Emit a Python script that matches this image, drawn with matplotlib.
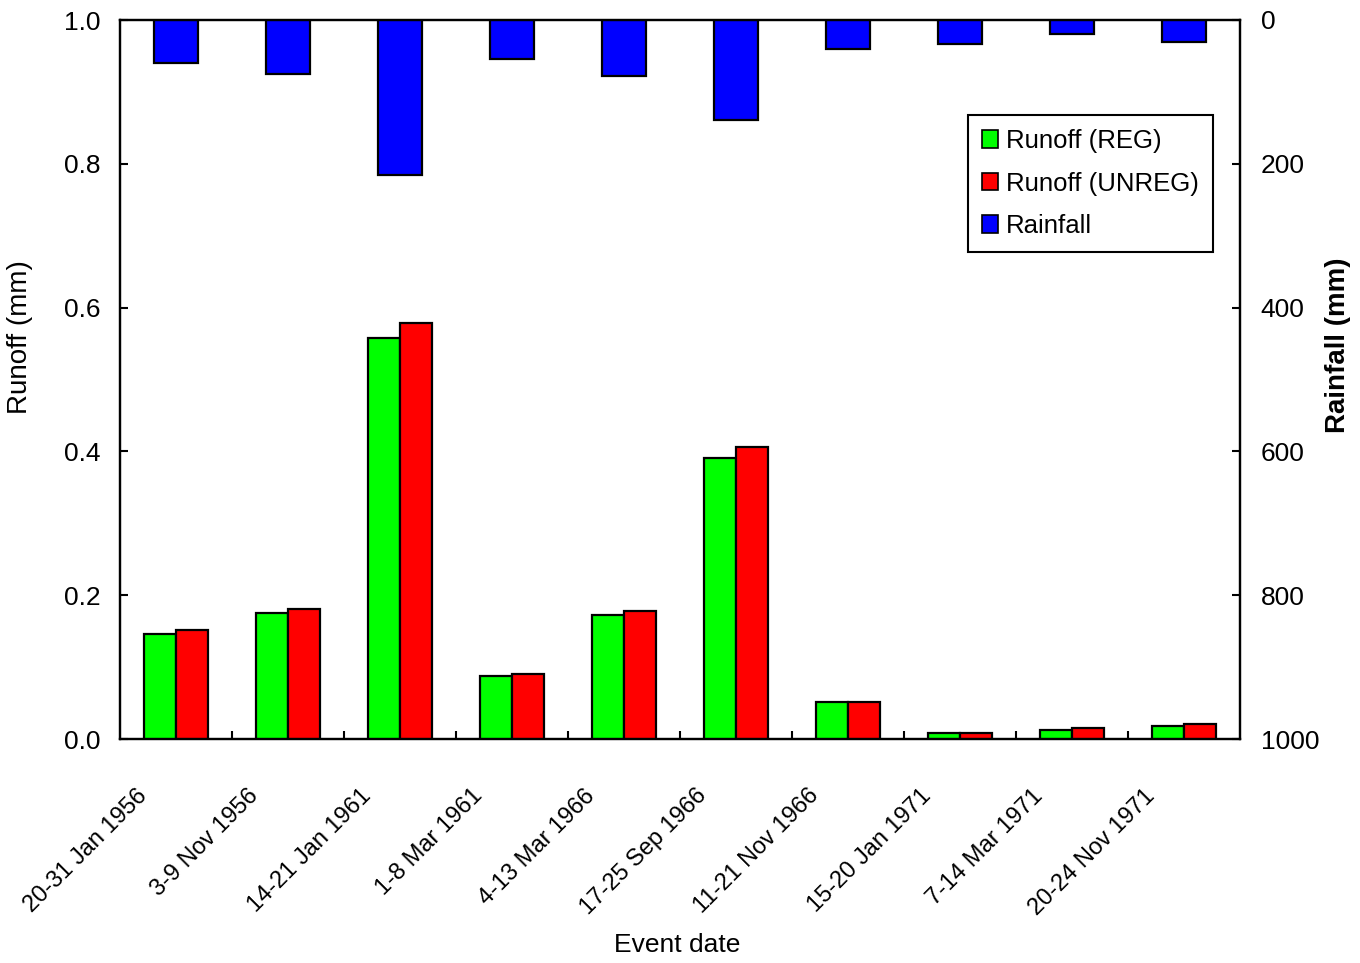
import numpy as np
import matplotlib
matplotlib.use("Agg")
import matplotlib.pyplot as plt
from matplotlib.patches import Patch

plt.rcParams['font.family'] = ['Liberation Sans', 'DejaVu Sans']

# ---- data ----
events = ["20-31 Jan 1956", "3-9 Nov 1956", "14-21 Jan 1961", "1-8 Mar 1961",
          "4-13 Mar 1966", "17-25 Sep 1966", "11-21 Nov 1966", "15-20 Jan 1971",
          "7-14 Mar 1971", "20-24 Nov 1971"]
runoff_reg = [0.146, 0.175, 0.558, 0.088, 0.172, 0.391, 0.052, 0.008, 0.012, 0.018]
runoff_unreg = [0.152, 0.181, 0.579, 0.090, 0.178, 0.406, 0.052, 0.008, 0.015, 0.021]
rainfall = [60, 75, 216, 54, 78, 139, 40, 33, 19, 31]

fig = plt.figure(figsize=(13.6, 9.63), dpi=100)
ax = fig.add_axes([120/1360, 1-739/963, 1120/1360, 719/963])
ax2 = ax.twinx()

x = np.arange(len(events))
w = 0.286
ax.bar(x - w/2, runoff_reg, w, color='#00ff00', edgecolor='black', linewidth=1.6, zorder=3)
ax.bar(x + w/2, runoff_unreg, w, color='#ff0000', edgecolor='black', linewidth=1.6, zorder=3)
ax2.bar(x, rainfall, 0.4, color='#0000ff', edgecolor='black', linewidth=1.6)

ax.set_xlim(-0.5, len(events) - 0.5)
ax.set_ylim(0, 1.0)
ax.set_yticks(np.arange(0, 1.01, 0.2))
ax.set_yticklabels(["%.1f" % v for v in np.arange(0, 1.01, 0.2)], fontsize=19)
ax2.set_ylim(1000, 0)
ax2.set_yticks(np.arange(0, 1001, 200))
ax2.set_yticklabels([str(v) for v in range(0, 1001, 200)], fontsize=19)

ax.tick_params(axis='y', direction='in', length=6, width=1.5, pad=14)
ax2.tick_params(axis='y', direction='in', length=6, width=1.5, pad=15)

# group boundaries as inward minor ticks, labels offset left of centre
ax.set_xticks(np.arange(0.5, len(events) - 0.5, 1.0), minor=True)
ax.tick_params(axis='x', which='minor', direction='in', length=6, width=1.5)
ax.set_xticks(x - 0.36)
ax.set_xticklabels(events, rotation=45, ha='right', rotation_mode='anchor', fontsize=17)
ax.tick_params(axis='x', which='major', length=0, pad=33)

for a in (ax, ax2):
    for s in a.spines.values():
        s.set_linewidth(1.6)

fig.text(20/1360, 1-337/963, "Runoff (mm)", rotation=90, ha='center', va='center', fontsize=20)
fig.text(1338/1360, 1-345/963, "Rainfall (mm)", rotation=90, ha='center', va='center',
         fontsize=20, fontweight='bold')
fig.text(677/1360, 1-945/963, "Event date", ha='center', va='center', fontsize=19)

handles = [Patch(facecolor='#00ff00', edgecolor='black', linewidth=1.2),
           Patch(facecolor='#ff0000', edgecolor='black', linewidth=1.2),
           Patch(facecolor='#0000ff', edgecolor='black', linewidth=1.2)]
leg = ax2.legend(handles, ["Runoff (REG)", "Runoff (UNREG)", "Rainfall"],
                 loc='upper right', bbox_to_anchor=(0.976, 0.868), borderaxespad=0,
                 fontsize=18.5, handlelength=0.65, handleheight=0.65, handletextpad=0.3,
                 labelspacing=0.72, borderpad=0.55, fancybox=False,
                 edgecolor='black', framealpha=1)
leg.get_frame().set_linewidth(1.5)

fig.savefig("out.png", dpi=100)
